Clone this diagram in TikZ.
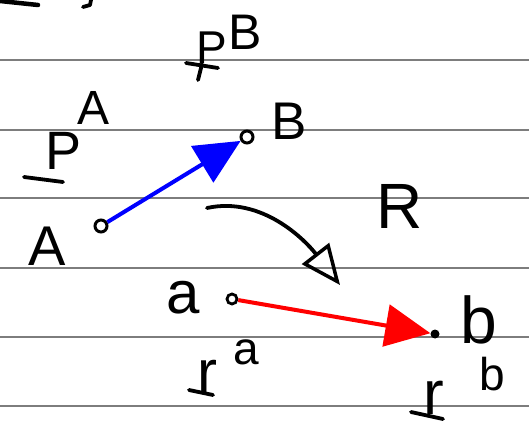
\documentclass[tikz,border=0pt]{standalone}
\usepackage{fontspec}
\setmainfont{Liberation Sans}
\usetikzlibrary{arrows.meta}
\definecolor{rulegray}{RGB}{125,125,125}
\definecolor{inkblue}{RGB}{0,0,255}
\definecolor{inkred}{RGB}{255,0,0}
\newcommand\hsz[1]{\fontsize{#1}{#1}\selectfont}
\begin{document}
\begin{tikzpicture}[x=1pt,y=-1pt,
  rule/.style={draw=rulegray, line width=2.2pt},
  ink/.style={line width=3.8pt, line cap=round, line join=round},
  ptc/.style={circle, draw, line width=3pt, minimum size=12pt, inner sep=0pt},
  ptf/.style={circle, fill, minimum size=9pt, inner sep=0pt},
  lbl/.style={inner sep=0pt, anchor=base},
  vecarrow/.style={line width=4pt, -{Triangle[length=45pt,width=42pt]}},
  maparrow/.style={ink, -{Triangle[open,length=40pt,width=34pt,line width=3.5pt]}}
  ]
\useasboundingbox (0,0) rectangle (529,430);
% ruled paper
\foreach \yy in {60,130,198,268,337,406}
  \draw[rule] (0,\yy) -- (529,\yy);
% cut-off marks at the top
\draw[ink, line width=4.5pt] (0,1) -- (38,5);
\draw[ink] (91,0) -- (90,5) -- (83,7);
% points
\node[ptc] (A) at (101,226) {};
\node[ptc] (B) at (247,137) {};
\node[ptc, minimum size=10pt, line width=2.8pt] (a) at (232,299) {};
\node[ptf] (b) at (435,334) {};
% vectors
\draw[vecarrow, draw=inkblue, fill=inkblue] (A) -- (B);
\draw[vecarrow, draw=inkred, fill=inkred] (a) -- (b);
% mapping R
\coordinate (rs) at (207,208);
\coordinate (re) at (340,285);
\draw[maparrow] (rs) .. controls (262,196) and (305,240) .. (re);
% labels
\node[lbl] (lA) at (47,265) {\hsz{56}A};
\node[lbl] (lB) at (289,140) {\hsz{53}B};
\node[lbl] (lR) at (400,228) {\hsz{64}R};
\node[lbl] (la) at (183,313) {\hsz{60}a};
\node[lbl] (lb) at (479,343) {\hsz{66}b};
% P^A
\node[lbl] (PA) at (64,170) {\hsz{54}P};
\node[lbl] (PAs) at (94,125) {\hsz{48}A};
\draw[ink] (24,177) -- (63,182);
% P^B
\node[lbl] (PB) at (212,64) {\hsz{46}P};
\node[lbl] (PBs) at (245,50) {\hsz{50}B};
\draw[ink] (186,63) -- (218,68);
\draw[ink] (202,64) -- (198,80);
% r^a
\node[lbl] (ra) at (207,392) {\hsz{60}r};
\node[lbl] (ras) at (246,364) {\hsz{46}a};
\draw[ink] (189,390) -- (213,395);
% r^b
\node[lbl] (rb) at (434,414) {\hsz{62}r};
\node[lbl] (rbs) at (492,390) {\hsz{46}b};
\draw[ink] (411,412) -- (443,419);
\end{tikzpicture}
\end{document}
